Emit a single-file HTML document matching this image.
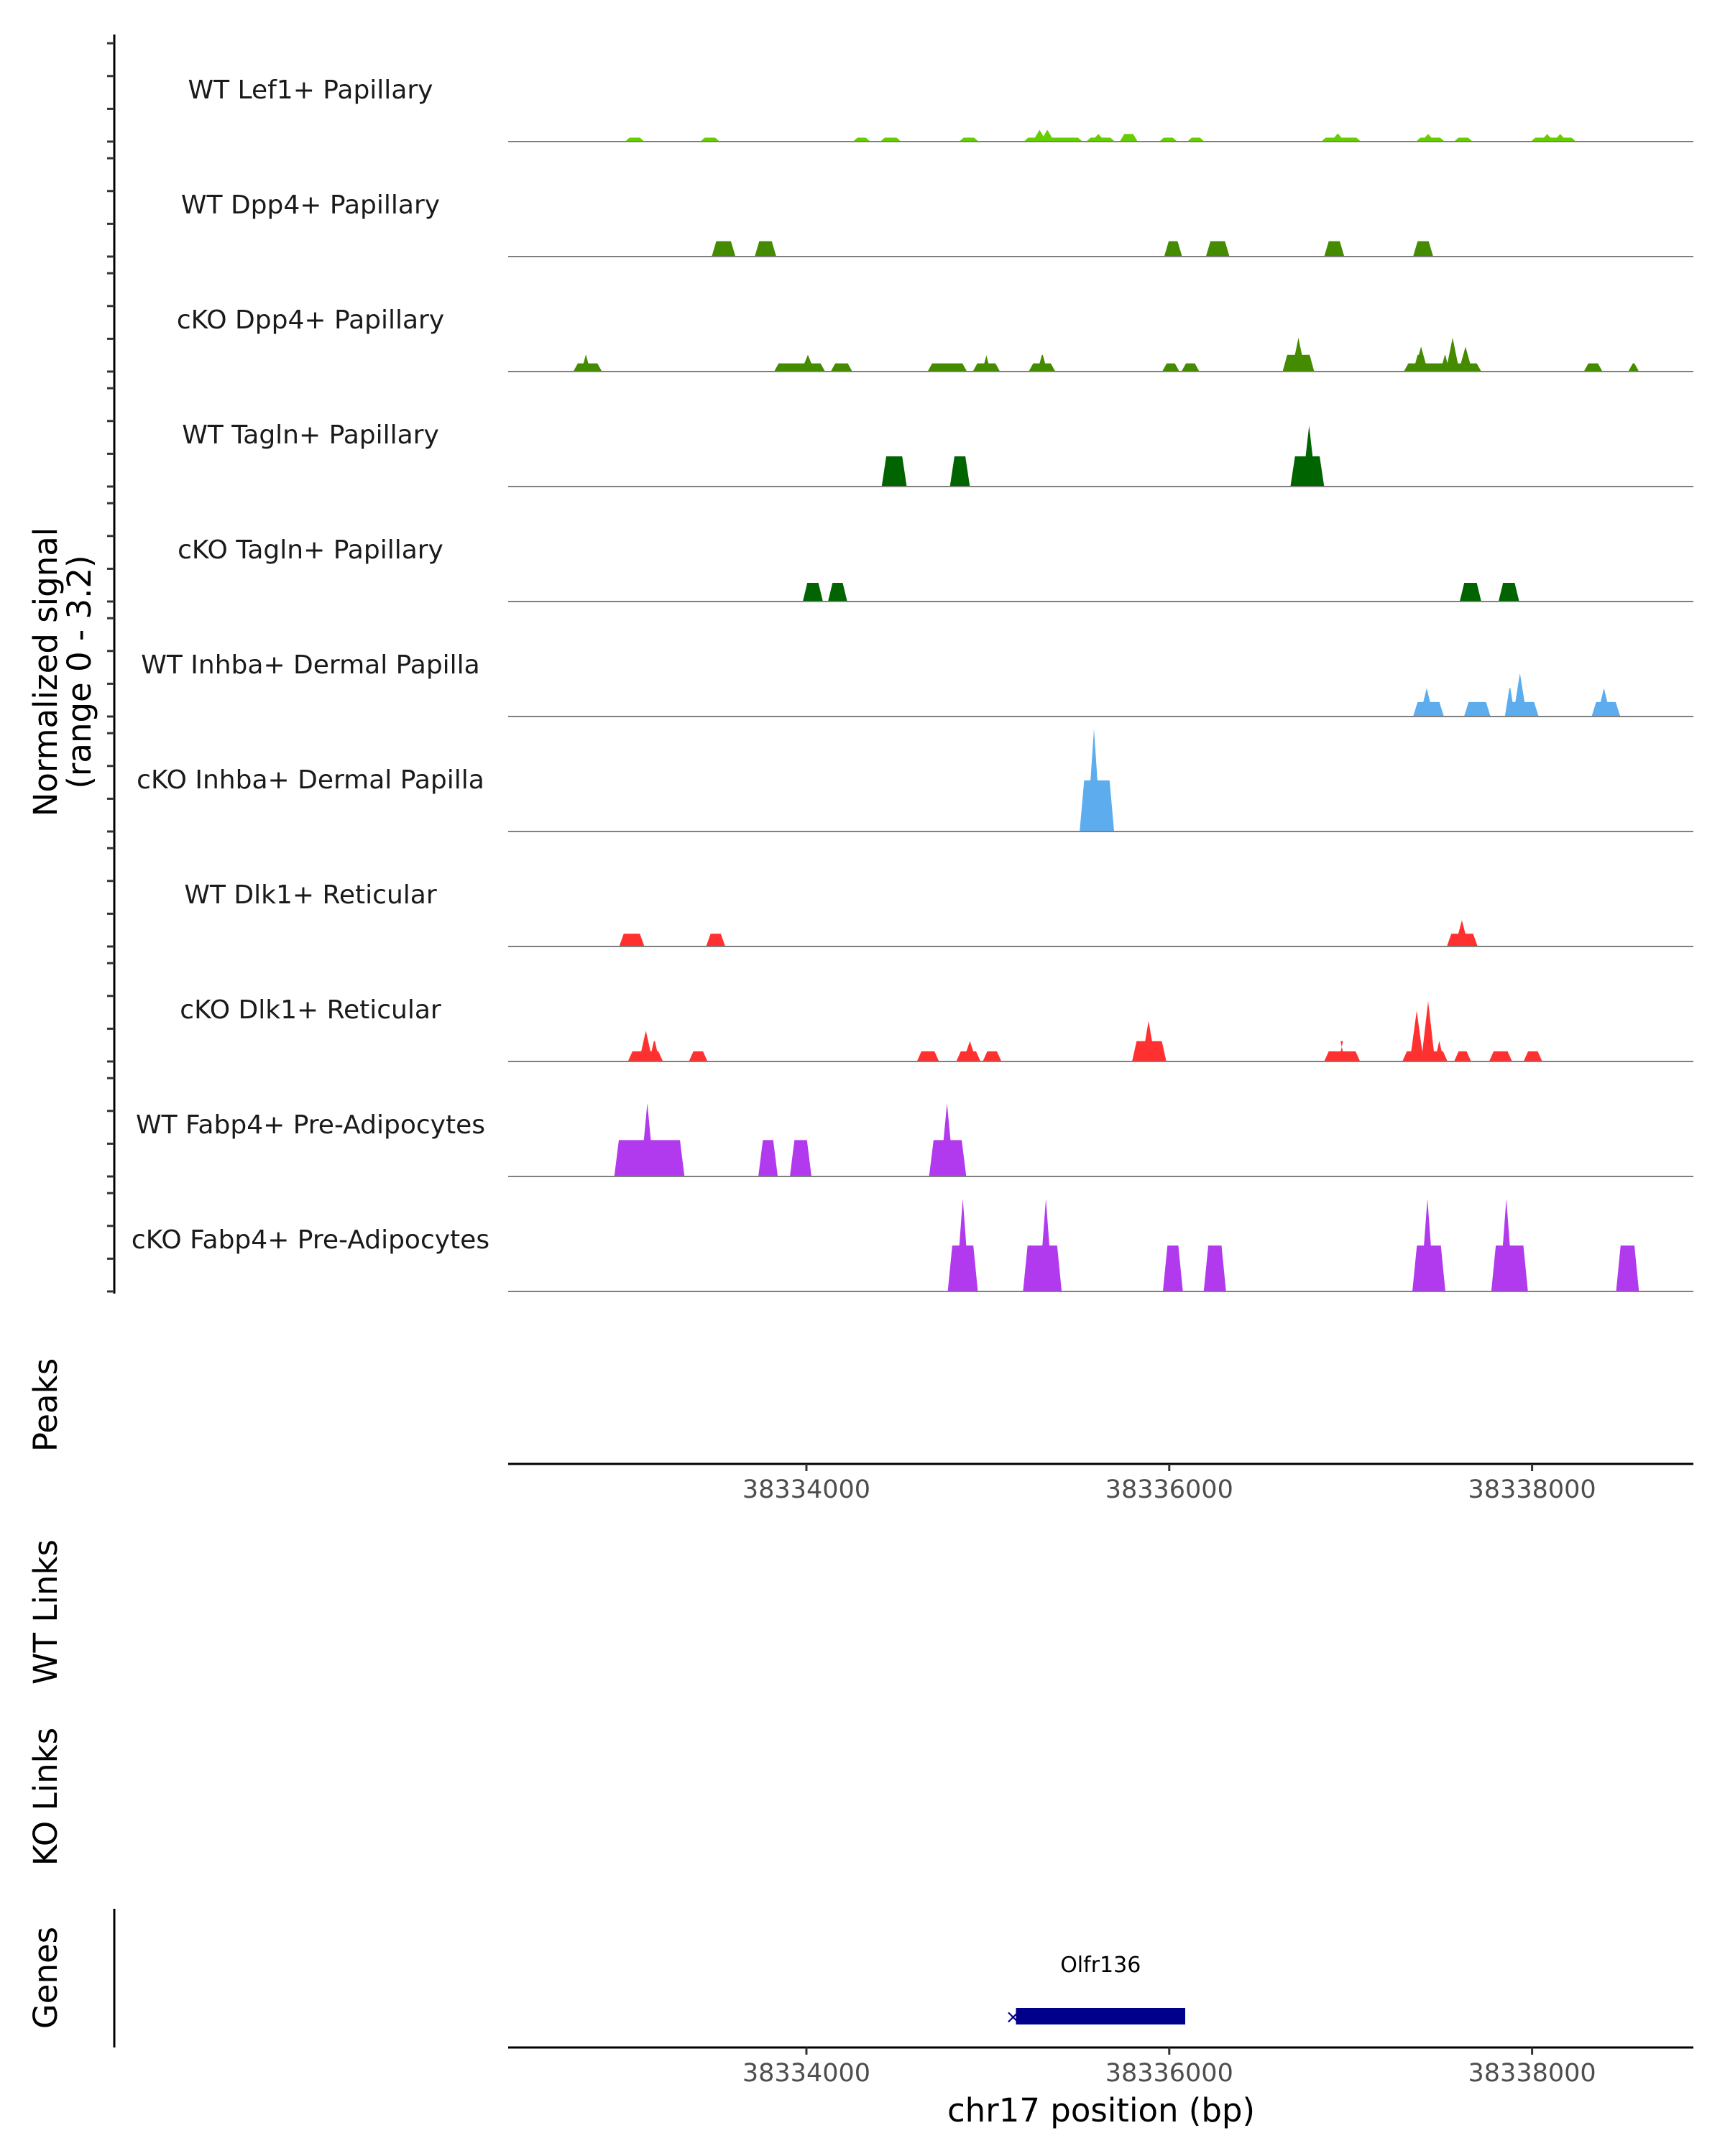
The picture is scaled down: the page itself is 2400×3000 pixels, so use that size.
<!DOCTYPE html>
<html><head><meta charset="utf-8"><style>
html,body{margin:0;padding:0;background:#fff;}
svg{display:block;font-family:"DejaVu Sans","Liberation Sans",sans-serif;}
</style></head><body>
<svg id="chart" width="2400" height="3000" viewBox="0 0 2400 3000" xmlns="http://www.w3.org/2000/svg"></svg>
<script>
// ---- data ----
const trackNames = ["WT Lef1+ Papillary","WT Dpp4+ Papillary","cKO Dpp4+ Papillary","WT Tagln+ Papillary","cKO Tagln+ Papillary","WT Inhba+ Dermal Papilla","cKO Inhba+ Dermal Papilla","WT Dlk1+ Reticular","cKO Dlk1+ Reticular","WT Fabp4+ Pre-Adipocytes","cKO Fabp4+ Pre-Adipocytes"];
const trackColors = ["#66CD00","#458B00","#458B00","#006400","#006400","#5CACEE","#5CACEE","#FF3030","#FF3030","#B23AEE","#B23AEE"];
// blocks: [start bp, end bp, height]
const blocks = [
 [[38333000,38333107,0.12],[38333415,38333522,0.12],[38334257,38334352,0.12],[38334407,38334522,0.12],[38334842,38334949,0.12],[38335198,38335522,0.12],[38335542,38335700,0.12],[38335727,38335826,0.23],[38335945,38336044,0.12],[38336099,38336194,0.12],[38336838,38337056,0.12],[38337360,38337518,0.12],[38337570,38337672,0.12],[38337993,38338242,0.12]],
 [[38333478,38333609,0.47],[38333715,38333834,0.47],[38335972,38336071,0.47],[38336202,38336332,0.47],[38336854,38336965,0.47],[38337344,38337455,0.47]],
 [[38332715,38332873,0.25],[38332759,38332810,0.51],[38333822,38334103,0.25],[38334134,38334253,0.25],[38334668,38334885,0.25],[38334917,38335067,0.25],[38334968,38335016,0.51],[38335225,38335372,0.25],[38335273,38335328,0.51],[38335961,38336056,0.25],[38336067,38336166,0.25],[38336625,38336799,0.51],[38337293,38337720,0.25],[38337344,38337407,0.51],[38337494,38337546,0.51],[38337620,38337650,0.51],[38338285,38338388,0.25],[38338530,38338589,0.25]],
 [[38334415,38334553,0.92],[38334791,38334901,0.92],[38336668,38336854,0.92]],
 [[38333980,38334091,0.57],[38334119,38334225,0.57],[38337601,38337720,0.57],[38337815,38337929,0.57]],
 [[38337344,38337514,0.44],[38337625,38337771,0.44],[38337850,38338036,0.44],[38337850,38337905,0.87],[38338328,38338486,0.44]],
 [[38335506,38335696,1.56]],
 [[38332968,38333107,0.39],[38333447,38333553,0.39],[38337530,38337700,0.39]],
 [[38333016,38333209,0.31],[38333134,38333190,0.62],[38333352,38333455,0.31],[38334609,38334731,0.31],[38334826,38334960,0.31],[38334972,38335075,0.31],[38335795,38335984,0.62],[38336854,38337052,0.31],[38336933,38336969,0.62],[38337285,38337534,0.31],[38337463,38337514,0.62],[38337570,38337664,0.31],[38337763,38337890,0.31],[38337953,38338056,0.31]],
 [[38332941,38333328,1.11],[38333735,38333842,1.11],[38333909,38334028,1.11],[38334676,38334881,1.11]],
 [[38334779,38334945,1.40],[38335194,38335407,1.40],[38335965,38336075,1.40],[38336190,38336313,1.40],[38337340,38337522,1.40],[38337775,38337977,1.40],[38338463,38338589,1.40]]
];
// spikes: [center bp, height]
const spikes = [
 [[38335285,0.36],[38335328,0.36],[38335609,0.23],[38336929,0.25],[38337427,0.23],[38338083,0.23],[38338155,0.23]],
 [],
 [[38334008,0.51],[38336712,1.03],[38337388,0.76],[38337562,1.03],[38337633,0.76]],
 [[38336771,1.86]],
 [],
 [[38337419,0.87],[38337933,1.32],[38338396,0.87]],
 [[38335585,3.13]],
 [[38337613,0.8]],
 [[38333115,0.94],[38334901,0.62],[38335886,1.24],[38337364,1.55],[38337427,1.84]],
 [[38333123,2.24],[38334775,2.24]],
 [[38334862,2.83],[38335320,2.83],[38337423,2.83],[38337858,2.83]]
];
const xTicks = [38334000,38336000,38338000];
const xTickLabels = ["38334000","38336000","38338000"];
const yTicks = [0,1,2,3];
const geneName = ["Olfr136"];
const geneStart = [38335155];
const geneEnd = [38336088];

// ---- scales ----
const X0 = 707, X1 = 2356, BP0 = 38332356, BP1 = 38338889;
function xs(bp){ return X0 + (bp-BP0)/(BP1-BP0)*(X1-X0); }
const base0 = 197, trackStep = 160.0, unit = 45.6;
function baseY(i){ return base0 + i*trackStep; }
function ys(i,v){ return baseY(i) - v*unit; }

const svg = document.getElementById('chart');
const NS = "http://www.w3.org/2000/svg";
function mk(tag, attrs, parent){ const e=document.createElementNS(NS,tag); for(const k in attrs) e.setAttribute(k,attrs[k]); (parent||svg).appendChild(e); return e; }
function txt(str, attrs, parent){ const e=mk('text',attrs,parent); e.textContent=str; return e; }

// left axis
const la = mk('line',{x1:159,y1:48,x2:159,y2:1800,stroke:'#000','stroke-width':3});


for(let i=0;i<trackNames.length;i++){
  for(const t of yTicks){
    const tk = mk('line',{x1:149,x2:159,y1:ys(i,t),y2:ys(i,t),stroke:'#333','stroke-width':3});
    
    
  }
}

// tracks
const TAPER = 25;
for(let i=0;i<trackNames.length;i++){
  const g = mk('g',{});
  
  
  const col = trackColors[i];
  for(const b of blocks[i]){
    const x1=xs(b[0]), x2=xs(b[1]), t=xs(b[0]+TAPER)-x1;
    const p = mk('polygon',{points:`${x1},${baseY(i)} ${x1+t},${ys(i,b[2])} ${x2-t},${ys(i,b[2])} ${x2},${baseY(i)}`,fill:col},g);
    
    
  }
  for(const s of spikes[i]){
    const c=xs(s[0]), w=xs(s[0]+38)-c;
    const p = mk('polygon',{points:`${c-w},${baseY(i)} ${c},${ys(i,s[1])} ${c+w},${baseY(i)}`,fill:col},g);
    
    
  }
  const bl = mk('line',{x1:X0,x2:X1,y1:baseY(i),y2:baseY(i),stroke:'#7f7f7f','stroke-width':2},g);
  
  
  const lb = txt(trackNames[i],{x:432,y:baseY(i)-60,'text-anchor':'middle','font-size':36,fill:'#1a1a1a'},g);
  
  
}

// left titles
function vtitle(lines, cy, name){
  const g = mk('g',{transform:`translate(0,${cy}) rotate(-90)`});
  
  
  lines.forEach((l,k)=>{ txt(l,{x:0,y:(lines.length===1?79:79+k*47),'text-anchor':'middle','font-size':45,fill:'#000'},g); });
}
vtitle(["Normalized signal","(range 0 - 3.2)"],935,'y-axis-title');
vtitle(["Peaks"],1955,'peaks-title');
vtitle(["WT Links"],2243,'wt-links-title');
vtitle(["KO Links"],2500,'ko-links-title');
vtitle(["Genes"],2752,'genes-title');

// x axes
function xaxis(y, name){
  const g = mk('g',{});
  
  
  mk('line',{x1:X0,x2:X1,y1:y,y2:y,stroke:'#000','stroke-width':3},g);
  xTicks.forEach((t,k)=>{
    mk('line',{x1:xs(t),x2:xs(t),y1:y,y2:y+10,stroke:'#333','stroke-width':3},g);
    const l = txt(xTickLabels[k],{x:xs(t),y:y+47,'text-anchor':'middle','font-size':35,fill:'#4d4d4d'},g);
    
    
  });
}
xaxis(2037,'peaks-x-axis');
xaxis(2849,'genes-x-axis');
const xt = txt("chr17 position (bp)",{x:1532,y:2952,'text-anchor':'middle','font-size':45,fill:'#000'});



// genes
const gl = mk('line',{x1:159,x2:159,y1:2656,y2:2849,stroke:'#000','stroke-width':3});


geneName.forEach((n,k)=>{
  const a=xs(geneStart[k]), b=xs(geneEnd[k]);
  const r = mk('rect',{x:a,y:2794,width:b-a,height:23,fill:'#00008B'});
  
  
  const ar = txt('\u00d7',{x:a-4,y:2815,'text-anchor':'middle','font-size':26,fill:'#00008B'});
  
  
  const gt = txt(n,{x:(a+b)/2,y:2744,'text-anchor':'middle','font-size':30,fill:'#000'});
  
  
});
</script>
</body></html>
